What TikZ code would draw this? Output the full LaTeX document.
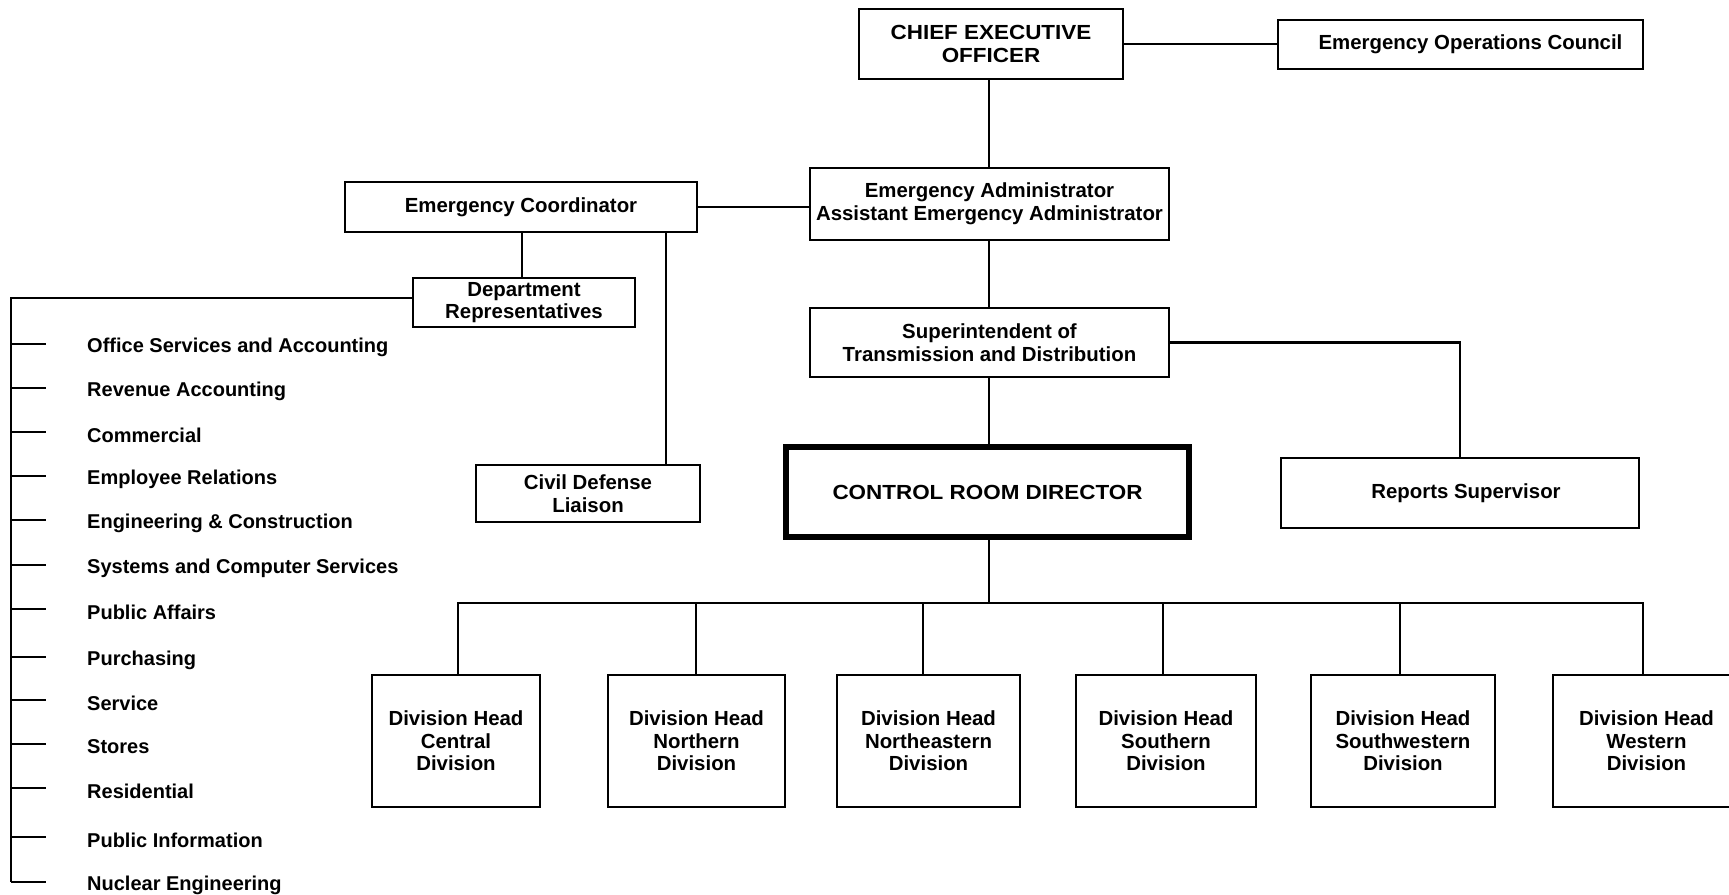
\documentclass[tikz,border=0pt]{standalone}
\usepackage{fontspec}
\setmainfont{Liberation Sans}
\newfontfamily\widecaps[FakeStretch=1.1]{Liberation Sans}
\begin{document}
\begin{tikzpicture}[x=1pt,y=-1pt,
  every node/.style={font=\bfseries\fontsize{20.4}{22.5}\selectfont, align=center, inner sep=0pt},
  box/.style={draw, line width=2.8pt, rectangle},
  heavybox/.style={draw, line width=5.5pt, rectangle},
  capsbox/.style={font=\widecaps\bfseries\fontsize{20.4}{22.5}\selectfont},
  link/.style={line width=2.8pt},
  item/.style={anchor=west, yshift=-3pt, font=\bfseries\fontsize{20}{22}\selectfont}]
\clip (0,0) rectangle (1729,894);
\fill[white] (0,0) rectangle (1729,894);

% top levels
\node[box, capsbox, minimum width=264pt, minimum height=70pt] (ceo) at (991,44) {CHIEF EXECUTIVE\\OFFICER};
\node[box, minimum width=365pt, minimum height=49pt] (eoc) at (1460.5,44.5) {\hspace*{20pt}Emergency Operations Council};
\node[box, minimum width=359pt, minimum height=72pt] (ea) at (989.5,204) {Emergency Administrator\\Assistant Emergency Administrator};
\node[box, minimum width=352pt, minimum height=50pt] (ec) at (521,207) {Emergency Coordinator};
\node[box, minimum width=222pt, minimum height=49pt] (dept) at (524,302.5) {Department\\Representatives};
\node[box, minimum width=224pt, minimum height=57pt] (cd) at (588,493.5) {Civil Defense\\Liaison};
\node[box, minimum width=359pt, minimum height=69pt] (sup) at (989.5,342.5) {Superintendent of\\Transmission and Distribution};
\node[box, minimum width=358pt, minimum height=70pt] (rs) at (1460,493) {\raisebox{-5pt}{\hspace*{12pt}Reports Supervisor}};
\node[heavybox, capsbox, minimum width=403pt, minimum height=90pt] (crd) at (987.5,492) {\raisebox{-3pt}{CONTROL ROOM DIRECTOR}};

% divisions
\tikzset{divbox/.style={box, minimum height=132pt}}
\node[divbox, minimum width=168pt] (d1) at (456,741) {Division Head\\Central\\Division};
\node[divbox, minimum width=177pt] (d2) at (696.5,741) {Division Head\\Northern\\Division};
\node[divbox, minimum width=183pt] (d3) at (928.5,741) {Division Head\\Northeastern\\Division};
\node[divbox, minimum width=180pt] (d4) at (1166,741) {Division Head\\Southern\\Division};
\node[divbox, minimum width=184pt] (d5) at (1403,741) {Division Head\\Southwestern\\Division};
\node[divbox, minimum width=187pt] (d6) at (1646.5,741) {Division Head\\Western\\Division};

% connectors
\draw[link] (ceo.east) -- (ceo.east -| eoc.west);
\draw[link] (ceo.south -| 989,0) -- (ea.north -| 989,0);
\draw[link] (ec.east) -- (ec.east -| ea.west);
\draw[link] (ea.south -| 989,0) -- (sup.north -| 989,0);
\draw[link] (sup.south -| 989,0) -- (crd.north -| 989,0);
\draw[link] (sup.east) -| (rs.north);
\draw[link] (ec.south -| 522,0) -- (dept.north -| 522,0);
\draw[link] (ec.south -| 666,0) -- (cd.north -| 666,0);

\coordinate (bus) at (989,603);
\draw[link] (crd.south -| bus) -- (bus);
\draw[link, line cap=rect] (458,603) -- (1643,603);
\foreach \n/\x in {d1/458, d2/696, d3/923, d4/1163, d5/1400, d6/1643}
  \draw[link] (\x,603) -- (\n.north -| \x,0);

% department list: a spine with one tick per department
\coordinate (spinetop) at (11,298);
\coordinate (spinebot) at (11,882);
\draw[link] (dept.west |- spinetop) -- (spinetop) -- (spinebot);
\foreach \i/\y/\t in {
  1/344/Office Services and Accounting,
  2/388/Revenue Accounting,
  3/432/Commercial,
  4/476/Employee Relations,
  5/520/Engineering \& Construction,
  6/565/Systems and Computer Services,
  7/609/Public Affairs,
  8/657/Purchasing,
  9/700/Service,
  10/744/Stores,
  11/788/Residential,
  12/837/Public Information,
  13/882/Nuclear Engineering}{
  \node[item] (item\i) at (87,\y) {\t};
  \coordinate (tick\i) at (46,\y);
  \draw[link] (spinetop |- tick\i) -- (tick\i);
}
\end{tikzpicture}
\end{document}
